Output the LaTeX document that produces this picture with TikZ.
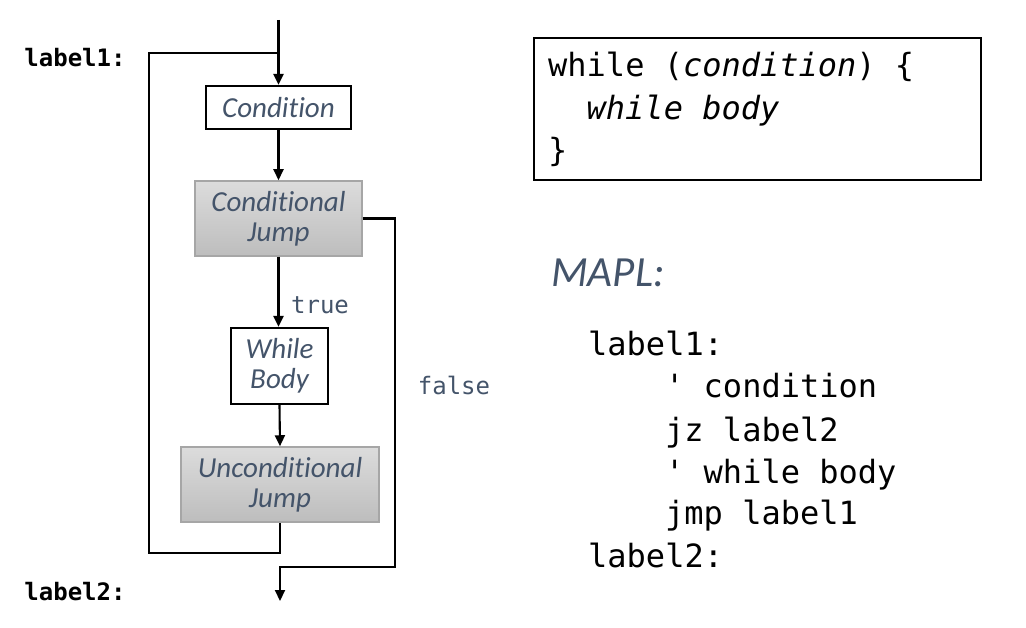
\documentclass[tikz,border=0pt]{standalone}
\usepackage{fontspec}
\setmonofont{DejaVu Sans Mono}
\newfontfamily\carl[Ligatures={NoCommon,NoDiscretionary,NoContextual}]{Carlito}
\usetikzlibrary{arrows.meta}
\definecolor{txtblue}{HTML}{44546A}
\definecolor{gtop}{HTML}{DCDCDC}
\definecolor{gbot}{HTML}{BDBDBD}
\definecolor{gborder}{HTML}{A6A6A6}
\begin{document}
\begin{tikzpicture}[x=1pt,y=-1pt,
  boxfont/.style={font=\carl\itshape\fontsize{29}{30}\selectfont, text=txtblue},
  wbox/.style={draw=black, line width=2.2pt, fill=white, inner sep=0pt, align=center, boxfont},
  gbox/.style={draw=gborder, line width=1.5pt, top color=gtop, bottom color=gbot, inner sep=0pt, align=center, boxfont},
  conn/.style={line width=2.1pt},
  arr/.style={conn, -{Triangle[length=11pt,width=10pt]}},
  edgelbl/.style={font=\ttfamily\fontsize{24}{28}\selectfont, text=txtblue, inner sep=0pt},
  sidelbl/.style={font=\ttfamily\bfseries\fontsize{24}{28}\selectfont, text=black, inner sep=0pt},
  codeline/.style={anchor=base west, font=\ttfamily\fontsize{32}{42}\selectfont, text=black, inner sep=0pt}
]
\useasboundingbox (0,0) rectangle (1026,628);
\fill[white] (0,0) rectangle (1026,628);

% flowchart boxes
\node[wbox, minimum width=145pt, minimum height=43pt] (cond) at (278.5,107.5) {Condi\kern0pt tion};
\node[gbox, minimum width=167pt, minimum height=75pt] (cj) at (278.5,218.5) {Condi\kern0pt tional\\Jump};
\node[wbox, minimum width=97pt, minimum height=76pt] (wb) at (279.5,366) {While\\Body};
\node[gbox, minimum width=198pt, minimum height=75pt] (uj) at (280,484.5) {Uncondi\kern0pt tional\\Jump};

% coordinates
\coordinate (top) at (278.5,20);
\coordinate (j1) at (278.5,53);
\coordinate (lt) at (149,53);
\coordinate (lb) at (149,553);
\coordinate (fb) at (395,567);
\coordinate (fm) at (280,567);
\coordinate (fin) at (280,601);

% connectors
\draw[arr] (top) -- (cond.north);
\draw[arr] (cond.south) -- (cj.north);
\draw[arr] (cj.south) -- (cj.south|-wb.north);
\draw[arr] (wb.south) -- (uj.north);
\draw[conn] (uj.south) |- (lb) -- (lt) -- (j1);
\draw[arr] (cj.east) -| (fb) -- (fm) -- (fin);

% labels
\node[edgelbl] (ltrue) at (320,305) {true};
\node[edgelbl] (lfalse) at (454,385) {false};
\node[sidelbl] (lab1) at (75,58) {label1:};
\node[sidelbl] (lab2) at (75,592) {label2:};

% code box
\node[draw=black, line width=2.2pt, minimum width=447pt, minimum height=142pt, inner sep=0pt] (codebox) at (757.5,109) {};
\node[codeline] (c1) at (548,77) {while (\textit{condition}) \{};
\node[codeline] (c2) at (586.5,120) {\textit{while body}};
\node[codeline] (c3) at (548,162) {\}};

% MAPL
\node[anchor=base west, inner sep=0pt, font=\carl\itshape\fontsize{43}{50}\selectfont, text=txtblue] (mapl) at (551,287) {MAPL:};
\node[codeline] (m1) at (588,356) {label1:};
\node[codeline] (m2) at (665,398) {' condition};
\node[codeline] (m3) at (665,441) {jz label2};
\node[codeline] (m4) at (665,483) {' while body};
\node[codeline] (m5) at (665,524) {jmp label1};
\node[codeline] (m6) at (588,567) {label2:};
\end{tikzpicture}
\end{document}
